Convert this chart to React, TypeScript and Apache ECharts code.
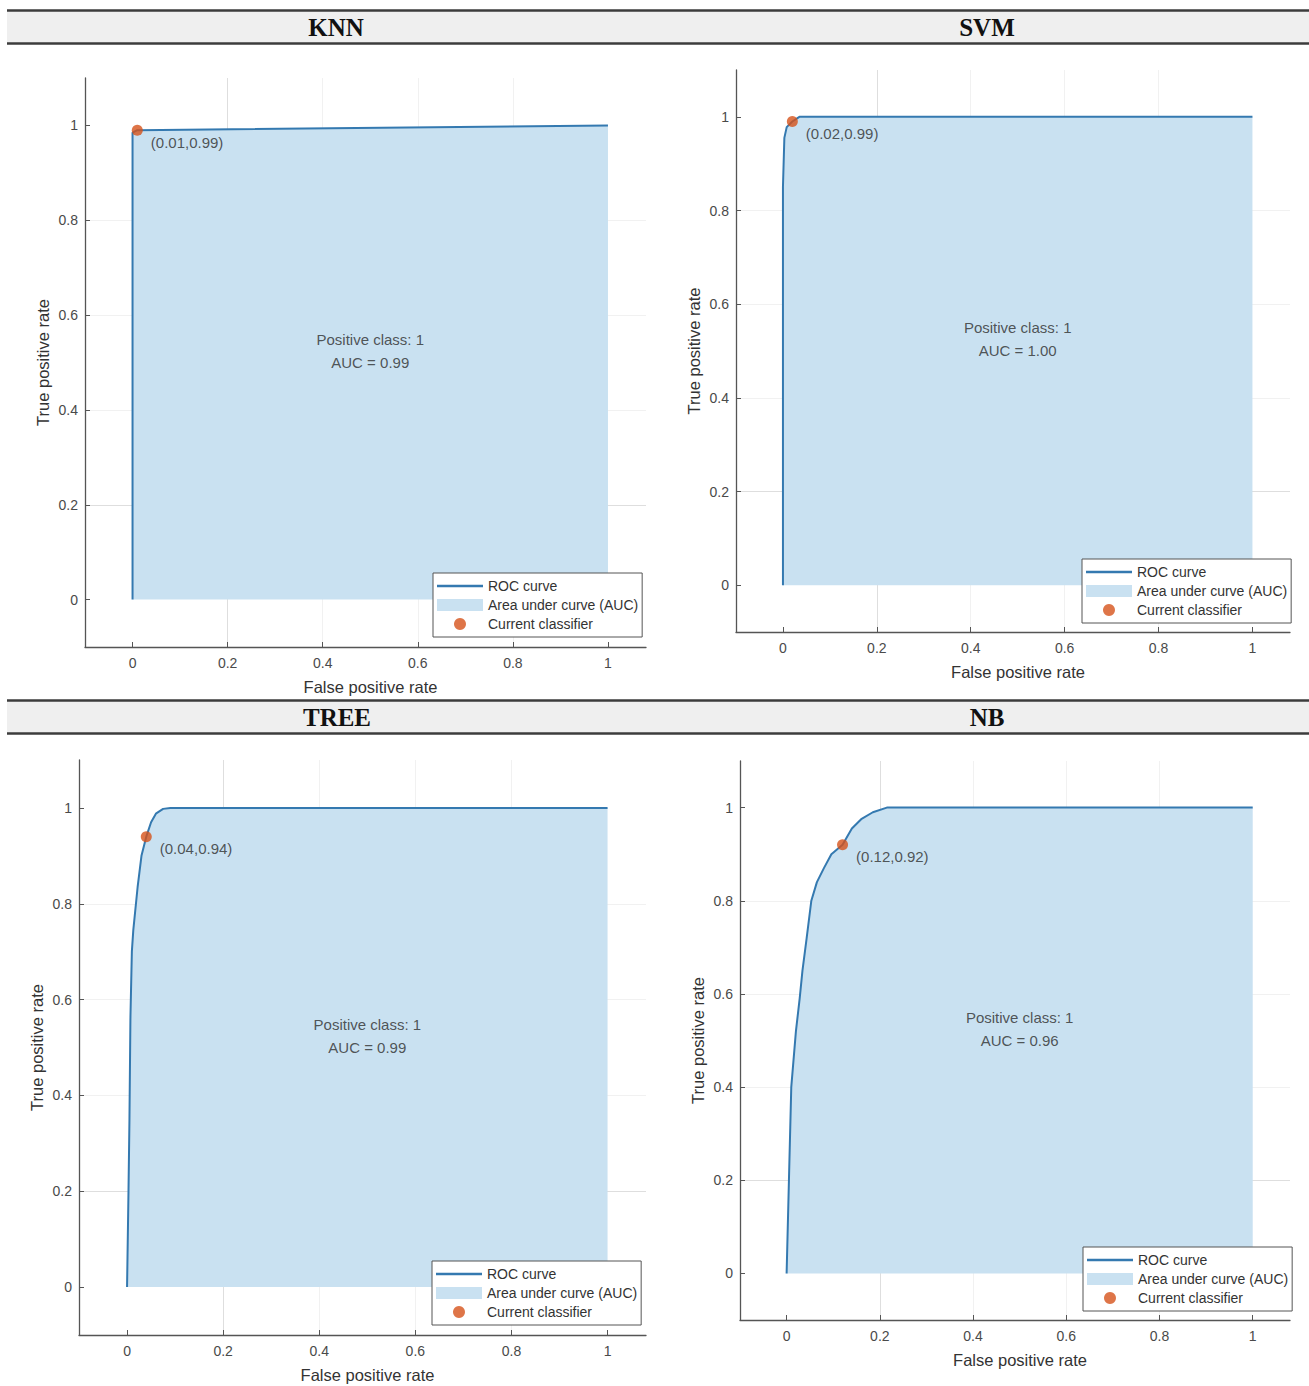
import React, { useEffect, useRef } from "react";
import * as echarts from "echarts";

// ---------- data ----------
const panelTitles = ["KNN", "SVM", "TREE", "NB"];
const aucValues = [0.99, 1.0, 0.99, 0.96];
const positiveClass = 1;

const knnFpr = [0, 0, 0.01, 1];
const knnTpr = [0, 0.985, 0.99, 1];

const svmFpr = [0, 0, 0.003, 0.008, 0.02, 0.035, 1];
const svmTpr = [0, 0.85, 0.955, 0.978, 0.99, 1, 1];

const treeFpr = [0, 0.003, 0.005, 0.007, 0.01, 0.013, 0.022, 0.03, 0.04, 0.05, 0.06, 0.075, 0.09, 1];
const treeTpr = [0, 0.2, 0.35, 0.56, 0.7, 0.745, 0.835, 0.9, 0.94, 0.97, 0.988, 0.998, 1, 1];

const nbFpr = [0, 0.005, 0.01, 0.02, 0.028, 0.034, 0.043, 0.053, 0.065, 0.08, 0.096, 0.12, 0.14, 0.16, 0.185, 0.215, 1];
const nbTpr = [0, 0.2, 0.4, 0.52, 0.59, 0.65, 0.72, 0.8, 0.84, 0.87, 0.9, 0.92, 0.955, 0.975, 0.99, 1, 1];

const curveFpr = [knnFpr, svmFpr, treeFpr, nbFpr];
const curveTpr = [knnTpr, svmTpr, treeTpr, nbTpr];

const markerFpr = [0.01, 0.02, 0.04, 0.12];
const markerTpr = [0.99, 0.99, 0.94, 0.92];

const tickValues = [0, 0.2, 0.4, 0.6, 0.8, 1];
const legendNames = ["ROC curve", "Area under curve (AUC)", "Current classifier"];

// ---------- layout / style ----------
const gridBoxes = [
  { left: 85, top: 78, width: 561, height: 569 },
  { left: 736, top: 70, width: 554, height: 562 },
  { left: 79, top: 760, width: 567, height: 575 },
  { left: 740, top: 761, width: 550, height: 559 },
];
const legendPos = [
  { left: 433, top: 573 },
  { left: 1082, top: 559 },
  { left: 432, top: 1261 },
  { left: 1083, top: 1247 },
];
const titlePos = [
  { x: 336, y: 27 },
  { x: 987, y: 27 },
  { x: 337, y: 717 },
  { x: 987, y: 717 },
];
const bands = [
  { y1: 10.5, y2: 43.5 },
  { y1: 700.5, y2: 733.5 },
];

const SANS = "'Liberation Sans', Arial, Helvetica, sans-serif";
const SERIF = "'Liberation Serif', 'Times New Roman', serif";
const LINE = "#3479b0";
const AREA = "#c9e1f1";
const DOT = "#d6531a";
const AXIS = "#555555";
const GRID_COLORS = ["#dedede", "#f1f1f1", "#f1f1f1", "#f1f1f1", "#f1f1f1", "#dedede"];

export default function App() {
  const ref = useRef<HTMLDivElement>(null);

  useEffect(() => {
    document.body.style.margin = "0";
    if (!ref.current) return;
    const chart = echarts.init(ref.current, undefined, { renderer: "svg" });

    const grids: any[] = [];
    const xAxes: any[] = [];
    const yAxes: any[] = [];
    const series: any[] = [];
    const legends: any[] = [];

    for (let i = 0; i < 4; i++) {
      grids.push({ ...gridBoxes[i], containLabel: false });
      const common = {
        type: "value",
        gridIndex: i,
        nameLocation: "middle",
        axisLine: { show: true, onZero: false, lineStyle: { color: AXIS, width: 1.3 } },
        axisTick: {
          show: true,
          inside: true,
          length: 5,
          customValues: tickValues,
          lineStyle: { color: AXIS, width: 1 },
        },
        axisLabel: {
          customValues: tickValues,
          fontSize: 14,
          color: "#4a4a4a",
          fontFamily: SANS,
          formatter: (v: number) => String(Number(v.toFixed(1))),
        },
        splitLine: {
          show: true,
          showMinLine: false,
          showMaxLine: false,
          lineStyle: { color: GRID_COLORS, width: 1 },
        },
      };
      xAxes.push({
        ...common,
        min: -0.1,
        max: 1.08,
        name: "False positive rate",
        nameGap: 31,
        nameTextStyle: { fontSize: 16.5, color: "#333", fontFamily: SANS, padding: [0, 0, 0, 10] },
        axisLabel: { ...common.axisLabel, margin: 9 },
      });
      yAxes.push({
        ...common,
        min: -0.1,
        max: 1.1,
        name: "True positive rate",
        nameGap: 34,
        nameTextStyle: { fontSize: 16.5, color: "#333", fontFamily: SANS },
        axisLabel: { ...common.axisLabel, margin: 7 },
      });

      const pts = curveFpr[i].map((x, k) => [x, curveTpr[i][k]]);

      series.push({
        type: "line",
        name: legendNames[1],
        xAxisIndex: i,
        yAxisIndex: i,
        data: pts,
        symbol: "none",
        silent: true,
        lineStyle: { width: 0, opacity: 0 },
        itemStyle: { color: AREA },
        areaStyle: { color: AREA, opacity: 1, origin: "auto" },
        z: 1,
      });
      series.push({
        type: "line",
        name: legendNames[0],
        xAxisIndex: i,
        yAxisIndex: i,
        data: pts,
        symbol: "none",
        silent: true,
        lineStyle: { width: 2, color: LINE },
        itemStyle: { color: LINE },
        z: 3,
      });
      series.push({
        type: "scatter",
        xAxisIndex: i,
        yAxisIndex: i,
        data: [[0.5, 0.525]],
        symbolSize: 1,
        silent: true,
        itemStyle: { color: "rgba(0,0,0,0)" },
        label: {
          show: true,
          position: "inside",
          align: "center",
          verticalAlign: "middle",
          formatter: `Positive class: ${positiveClass}\nAUC = ${aucValues[i].toFixed(2)}`,
          fontSize: 15,
          lineHeight: 23,
          color: "#2e2e2e",
          fontFamily: SANS,
        },
        z: 4,
      });
      series.push({
        type: "scatter",
        name: legendNames[2],
        xAxisIndex: i,
        yAxisIndex: i,
        data: [[markerFpr[i], markerTpr[i]]],
        symbolSize: 11,
        silent: true,
        itemStyle: { color: DOT },
        label: {
          show: true,
          position: "right",
          distance: 5,
          offset: [3, 12],
          formatter: `(${markerFpr[i].toFixed(2)},${markerTpr[i].toFixed(2)})`,
          fontSize: 15,
          color: "#2e2e2e",
          fontFamily: SANS,
        },
        z: 5,
      });

      legends.push({
        ...legendPos[i],
        orient: "vertical",
        selectedMode: false,
        backgroundColor: "#ffffff",
        borderColor: "#555555",
        borderWidth: 1,
        borderRadius: 0,
        padding: [5, 4, 5, 4],
        itemGap: 3,
        itemWidth: 46,
        itemHeight: 12,
        symbolKeepAspect: true,
        textStyle: { fontSize: 14, color: "#333", fontFamily: SANS, lineHeight: 16 },
        data: [
          { name: legendNames[0], icon: "path://M0,0L46,0L46,2.4L0,2.4Z" },
          { name: legendNames[1], icon: "rect" },
          { name: legendNames[2], icon: "circle" },
        ],
      });
    }

    const graphics: any[] = [];
    bands.forEach((b) => {
      graphics.push({
        type: "rect",
        shape: { x: 7, y: b.y1, width: 1302, height: b.y2 - b.y1 },
        style: { fill: "#efefef" },
        silent: true,
      });
      graphics.push({
        type: "line",
        shape: { x1: 7, y1: b.y1, x2: 1309, y2: b.y1 },
        style: { stroke: "#3c3c3c", lineWidth: 2.5 },
        silent: true,
      });
      graphics.push({
        type: "line",
        shape: { x1: 7, y1: b.y2, x2: 1309, y2: b.y2 },
        style: { stroke: "#3c3c3c", lineWidth: 2.5 },
        silent: true,
      });
    });
    panelTitles.forEach((t, i) => {
      graphics.push({
        type: "text",
        x: titlePos[i].x,
        y: titlePos[i].y,
        silent: true,
        style: {
          text: t,
          fontFamily: SERIF,
          fontWeight: "bold",
          fontSize: 25,
          fill: "#111",
          align: "center",
          verticalAlign: "middle",
        },
      });
    });

    chart.setOption({
      animation: false,
      backgroundColor: "#ffffff",
      textStyle: { fontFamily: SANS },
      grid: grids,
      xAxis: xAxes,
      yAxis: yAxes,
      legend: legends,
      series,
      graphic: graphics,
    });

    return () => chart.dispose();
  }, []);

  return <div ref={ref} style={{ width: 1309, height: 1386 }} />;
}
